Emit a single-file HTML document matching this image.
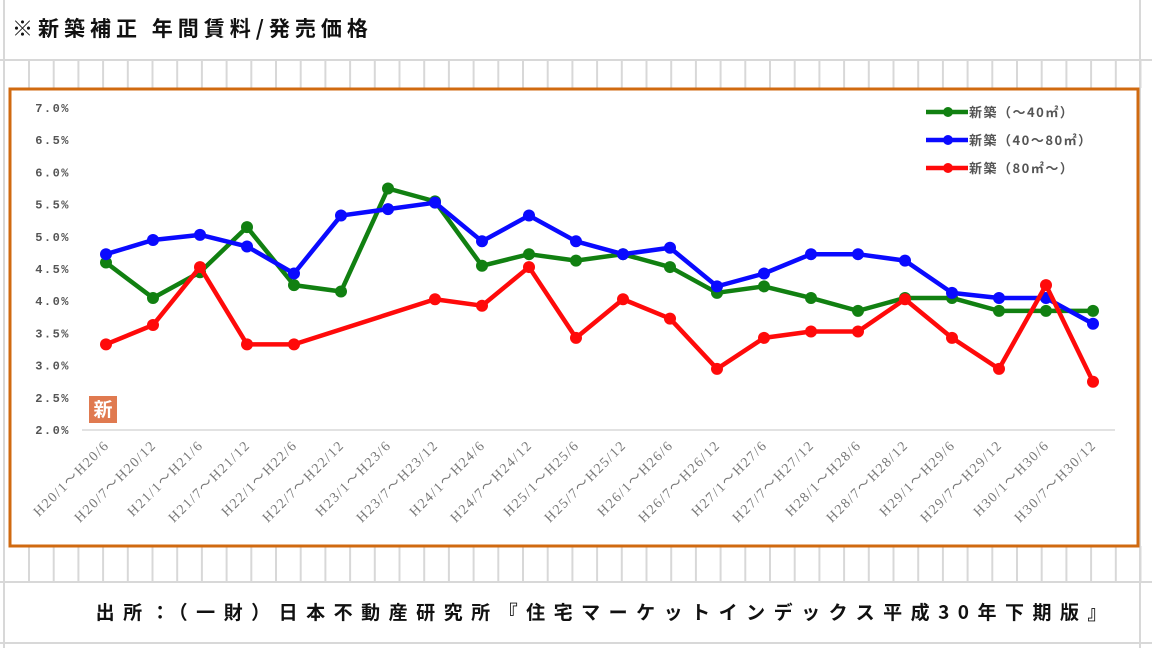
<!DOCTYPE html>
<html><head><meta charset="utf-8"><style>
body{margin:0;width:1152px;height:648px;overflow:hidden;background:#fff;font-family:"Liberation Sans","Noto Sans CJK JP",sans-serif}
</style></head><body>
<svg id="c" width="1152" height="648" xmlns="http://www.w3.org/2000/svg">
<g id="grid" stroke="#d8d8d8" stroke-width="2"></g>
<text x="12" y="36" font-size="21" font-weight="bold" fill="#111" font-family="'Noto Sans CJK JP',sans-serif" letter-spacing="5">※新築補正 年間賃料/発売価格</text>
<rect x="10" y="89" width="1128" height="457" fill="#fff" stroke="#d06a10" stroke-width="3"/>
<g id="plot"></g>
<text x="1115" y="619" text-anchor="end" font-size="19" font-weight="bold" fill="#111" font-family="'Noto Sans CJK JP',sans-serif" letter-spacing="8.5">出所：（一財）日本不動産研究所『住宅マーケットインデックス平成30年下期版』</text>
</svg>
<script>
const categories=["H20/1～H20/6","H20/7～H20/12","H21/1～H21/6","H21/7～H21/12","H22/1～H22/6","H22/7～H22/12","H23/1～H23/6","H23/7～H23/12","H24/1～H24/6","H24/7～H24/12","H25/1～H25/6","H25/7～H25/12","H26/1～H26/6","H26/7～H26/12","H27/1～H27/6","H27/7～H27/12","H28/1～H28/6","H28/7～H28/12","H29/1～H29/6","H29/7～H29/12","H30/1～H30/6","H30/7～H30/12"];
const small=[4.6,4.05,4.45,5.15,4.25,4.15,5.75,5.55,4.55,4.73,4.63,4.73,4.53,4.13,4.23,4.05,3.85,4.05,4.05,3.85,3.85,3.85];
const mid=[4.73,4.95,5.03,4.85,4.43,5.33,5.43,5.53,4.93,5.33,4.93,4.73,4.83,4.23,4.43,4.73,4.73,4.63,4.13,4.05,4.05,3.65];
const large=[3.33,3.63,4.53,3.33,3.33,null,null,4.03,3.93,4.53,3.43,4.03,3.73,2.95,3.43,3.53,3.53,4.03,3.43,2.95,4.25,2.75];
const yTicks=[2.0,2.5,3.0,3.5,4.0,4.5,5.0,5.5,6.0,6.5,7.0];
const seriesNames=["新築（～40㎡）","新築（40～80㎡）","新築（80㎡～）"];
const NS="http://www.w3.org/2000/svg";
const xS=i=>106+i*47;
const yS=v=>430-(v-2)*64.4;
function mk(tag,attrs,parent){const e=document.createElementNS(NS,tag);for(const k in attrs)e.setAttribute(k,attrs[k]);parent.appendChild(e);return e;}
const grid=document.getElementById('grid');
for(let x=29;x<1152;x+=24.7){
 const l1=mk('line',{x1:x,x2:x,y1:60,y2:88},grid);
 
 
 const l2=mk('line',{x1:x,x2:x,y1:546,y2:582},grid);
 
 
}
[4,1140].forEach(x=>{const l=mk('line',{x1:x,x2:x,y1:0,y2:648},grid);
 
 });
[60,582,643].forEach(y=>{const l=mk('line',{x1:0,x2:1152,y1:y,y2:y},grid);
 
 });
const plot=document.getElementById('plot');
const ax=mk('line',{x1:82,x2:1115,y1:yS(2),y2:yS(2),stroke:'#d9d9d9','stroke-width':1.5},plot);


yTicks.forEach(v=>{const t=mk('text',{x:70,y:yS(v)+4,'text-anchor':'end','font-size':12,'font-weight':'bold',fill:'#555','letter-spacing':1.5,'font-family':'Liberation Mono,monospace'},plot);t.textContent=v.toFixed(1)+'%';
 
 });
categories.forEach((c,i)=>{const x=xS(i)+4,y=446;const t=mk('text',{x:x,y:y,'text-anchor':'end','font-size':14,fill:'#777','letter-spacing':1.5,'font-family':'Liberation Serif,serif',transform:`rotate(-45 ${x} ${y})`},plot);t.textContent=c;
 
 });
const badge=mk('rect',{x:89,y:396,width:28,height:27,fill:'#e07a50'},plot);


const bt=mk('text',{x:103,y:416,'text-anchor':'middle','font-size':19,'font-weight':'bold',fill:'#fff','font-family':'Noto Sans CJK JP,sans-serif'},plot);bt.textContent='新';


const colors=['#118011','#0a0aff','#ff0a0a'];
[small,mid,large].forEach((arr,s)=>{
 let pts=[];arr.forEach((v,i)=>{if(v!=null)pts.push([xS(i),yS(v)]);});
 const p=mk('polyline',{points:pts.map(p=>p.join(',')).join(' '),fill:'none',stroke:colors[s],'stroke-width':4.5,'stroke-linejoin':'round'},plot);
 
 
 pts.forEach(q=>{const c=mk('circle',{cx:q[0],cy:q[1],r:6,fill:colors[s]},plot);
  
  });
 const ly=112+s*28;
 const ll=mk('line',{x1:926,x2:968,y1:ly,y2:ly,stroke:colors[s],'stroke-width':4.5},plot);
 
 
 const lc=mk('circle',{cx:948,cy:ly,r:5,fill:colors[s]},plot);
 
 
 const lt=mk('text',{x:969,y:ly+5,'font-size':13,'font-weight':'bold',fill:'#555','letter-spacing':1.5,'font-family':'Noto Sans CJK JP,sans-serif'},plot);lt.textContent=seriesNames[s];
 
 
});
</script>
</body></html>
